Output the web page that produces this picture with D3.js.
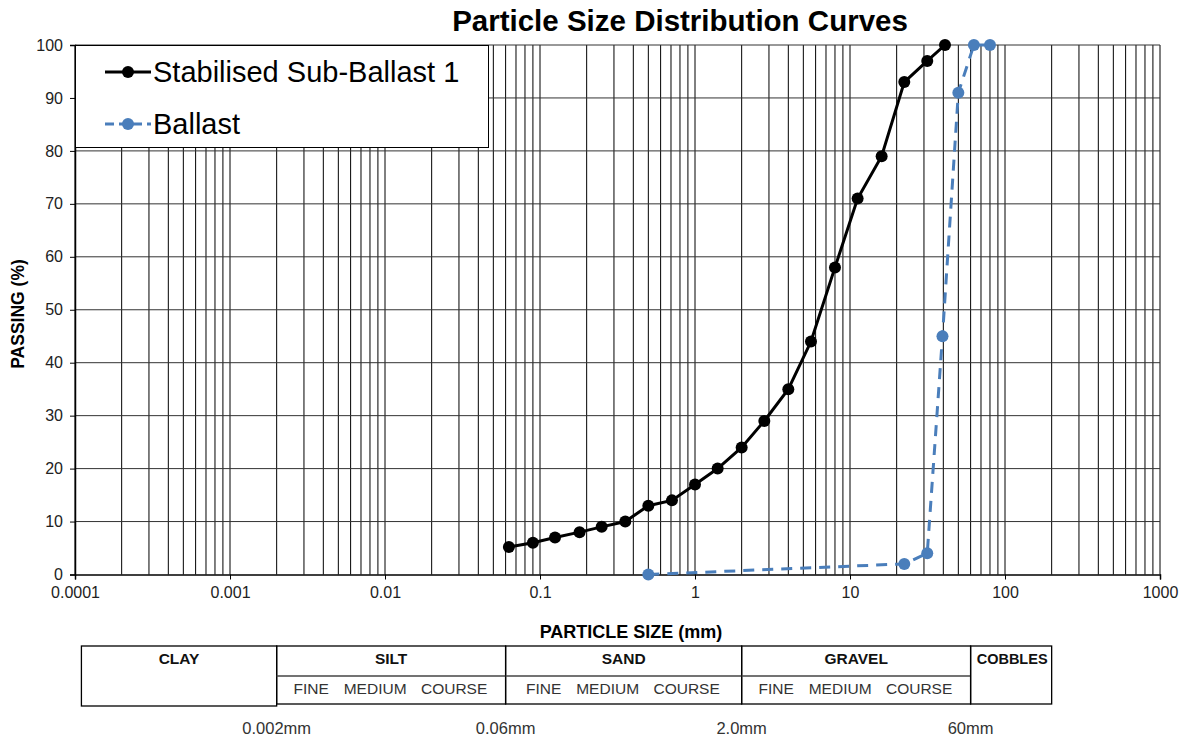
<!DOCTYPE html>
<html><head><meta charset="utf-8">
<script src="https://cdn.jsdelivr.net/npm/d3@7"></script>
<style>body{margin:0;background:#fff}svg{display:block;font-family:"Liberation Sans",Arial,sans-serif}</style>
</head><body><svg id="c" width="1190" height="740"></svg>
<script>
const subSizes = [0.063,0.09,0.125,0.18,0.25,0.355,0.5,0.71,1,1.4,2,2.8,4,5.6,8,11.2,16,22.4,31.5,41];
const subPassing = [5.2,6,7,8,9,10,13,14,17,20,24,29,35,44,58,71,79,93,97,100];
const balSizes = [0.5,22.4,31.5,39.5,50,63,80];
const balPassing = [0,2,4,45,91,100,100];
const xTicks = [0.0001,0.001,0.01,0.1,1,10,100,1000];
const xTickLabels = ["0.0001","0.001","0.01","0.1","1","10","100","1000"];
const yTicks = [0,10,20,30,40,50,60,70,80,90,100];
const classes = [
  {name:"CLAY", from:0.00011, to:0.002, subs:[]},
  {name:"SILT", from:0.002, to:0.06, subs:["FINE","MEDIUM","COURSE"]},
  {name:"SAND", from:0.06, to:2, subs:["FINE","MEDIUM","COURSE"]},
  {name:"GRAVEL", from:2, to:60, subs:["FINE","MEDIUM","COURSE"]},
  {name:"COBBLES", from:60, to:200, subs:[]}
];
const boundaries = [0.002,0.06,2,60];
const boundaryLabels = ["0.002mm","0.06mm","2.0mm","60mm"];

const svg = d3.select("#c");
const x = d3.scaleLog().domain([0.0001,1000]).range([75,1160]);
const y = d3.scaleLinear().domain([0,100]).range([574.5,45]);

// minor + major vertical gridlines
const vlines = [];
for (let e=-4; e<3; e++) for (let m=1; m<10; m++) vlines.push(m*Math.pow(10,e));
vlines.push(1000);
svg.append("g").selectAll("line").data(vlines).join("line")
  .attr("x1",d=>x(d)).attr("x2",d=>x(d)).attr("y1",y(0)).attr("y2",y(100))
  .attr("stroke","#000").attr("stroke-width",1);
// horizontal gridlines
svg.append("g").selectAll("line").data(yTicks.slice(1)).join("line")
  .attr("x1",x(0.0001)).attr("x2",x(1000)).attr("y1",d=>y(d)).attr("y2",d=>y(d))
  .attr("stroke","#333").attr("stroke-width",1);

// axes
const yAxis = d3.axisLeft(y).tickValues(yTicks).tickSize(5).tickPadding(7);
const gy = svg.append("g").attr("transform",`translate(${x(0.0001)},0)`).call(yAxis);
gy.select(".domain").attr("stroke","#000").attr("stroke-width",1.5);
gy.selectAll("text").attr("font-size",16).attr("fill","#222").attr("font-family","Liberation Sans, Arial");
const xAxis = d3.axisBottom(x).tickValues(xTicks).tickFormat((d,i)=>xTickLabels[i]).tickSize(5).tickPadding(7);
const gx = svg.append("g").attr("transform",`translate(0,${y(0)})`).call(xAxis);
gx.select(".domain").attr("stroke","#000").attr("stroke-width",1.5);
gx.selectAll("text").attr("font-size",16).attr("fill","#222").attr("font-family","Liberation Sans, Arial");

// title and axis labels
svg.append("text").attr("x",680).attr("y",31).attr("text-anchor","middle")
  .attr("font-size",29.5).attr("font-weight","bold").text("Particle Size Distribution Curves");
svg.append("text").attr("transform","translate(24,314) rotate(-90)").attr("text-anchor","middle")
  .attr("font-size",17.5).attr("font-weight","bold").text("PASSING (%)");
svg.append("text").attr("x",631).attr("y",638).attr("text-anchor","middle")
  .attr("font-size",18).attr("font-weight","bold").text("PARTICLE SIZE (mm)");

// series
const line = d3.line().x(d=>x(d[0])).y(d=>y(d[1]));
const balData = balSizes.map((s,i)=>[s,balPassing[i]]);
const subData = subSizes.map((s,i)=>[s,subPassing[i]]);
const blue = "#4a7ebb";
svg.append("path").datum(balData).attr("d",line).attr("fill","none")
  .attr("stroke",blue).attr("stroke-width",3).attr("stroke-dasharray","11,8");
svg.append("g").selectAll("circle").data(balData).join("circle")
  .attr("cx",d=>x(d[0])).attr("cy",d=>y(d[1])).attr("r",6).attr("fill",blue);
svg.append("path").datum(subData).attr("d",line).attr("fill","none")
  .attr("stroke","#000").attr("stroke-width",3);
svg.append("g").selectAll("circle").data(subData).join("circle")
  .attr("cx",d=>x(d[0])).attr("cy",d=>y(d[1])).attr("r",6).attr("fill","#000");

// legend
const lg = svg.append("g");
lg.append("rect").attr("x",75.5).attr("y",45.5).attr("width",413).attr("height",102)
  .attr("fill","#fff").attr("stroke","#000").attr("stroke-width",1);
lg.append("line").attr("x1",105).attr("x2",151).attr("y1",72).attr("y2",72).attr("stroke","#000").attr("stroke-width",3);
lg.append("circle").attr("cx",128).attr("cy",72).attr("r",6).attr("fill","#000");
lg.append("text").attr("x",153).attr("y",82).attr("font-size",29).text("Stabilised Sub-Ballast 1");
lg.append("line").attr("x1",105).attr("x2",151).attr("y1",124).attr("y2",124).attr("stroke",blue).attr("stroke-width",3).attr("stroke-dasharray","9,5");
lg.append("circle").attr("cx",128).attr("cy",124).attr("r",6).attr("fill",blue);
lg.append("text").attr("x",153).attr("y",134).attr("font-size",29).text("Ballast");

// classification table
const tTop = 646, tMid = 676, tBot = 704, clayBot = 706;
const tg = svg.append("g");
classes.forEach(c=>{
  const x0 = x(c.from), x1 = x(c.to);
  if (c.subs.length===0){
    const bot = c.name==="CLAY" ? clayBot : tBot;
    tg.append("rect").attr("x",x0).attr("y",tTop).attr("width",x1-x0).attr("height",bot-tTop)
      .attr("fill","none").attr("stroke","#000").attr("stroke-width",1.3);
  } else {
    tg.append("rect").attr("x",x0).attr("y",tTop).attr("width",x1-x0).attr("height",tBot-tTop)
      .attr("fill","none").attr("stroke","#000").attr("stroke-width",1.3);
    tg.append("line").attr("x1",x0).attr("x2",x1).attr("y1",tMid).attr("y2",tMid)
      .attr("stroke","#444").attr("stroke-width",1.3);
    const cx = (x0+x1)/2;
    const offs = [-80,-16,63];
    c.subs.forEach((s,i)=>{
      tg.append("text").attr("x",cx+offs[i]).attr("y",694).attr("text-anchor","middle")
        .attr("font-size",15.5).attr("fill","#333").text(s);
    });
  }
  tg.append("text").attr("x",c.name==="COBBLES"?(x0+x1)/2+1:(x0+x1)/2).attr("y",664).attr("text-anchor","middle")
    .attr("font-size",c.name==="COBBLES"?14.5:15.5).attr("font-weight","bold").attr("fill","#111").text(c.name);
});
svg.append("g").selectAll("text").data(boundaries).join("text")
  .attr("x",d=>x(d)).attr("y",734).attr("text-anchor","middle")
  .attr("font-size",16.5).attr("fill","#333").text((d,i)=>boundaryLabels[i]);
</script></body></html>
